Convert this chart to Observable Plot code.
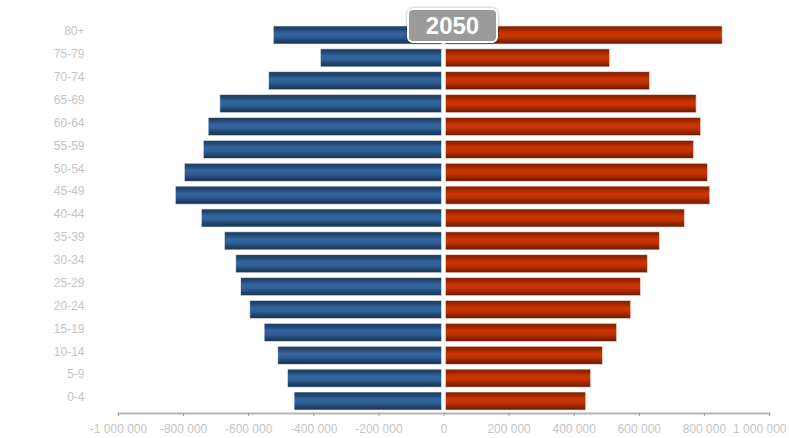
<!DOCTYPE html>
<html>
<head>
<meta charset="utf-8">
<script src="https://cdn.jsdelivr.net/npm/d3@7"></script>
<script src="https://cdn.jsdelivr.net/npm/@observablehq/plot@0.6"></script>
<style>
  html, body { margin: 0; padding: 0; background: #fff; }
  #wrap { position: relative; width: 789px; height: 438px; font-family: "Liberation Sans", Arial, sans-serif; }
  #badge {
    position: absolute; left: 407px; top: 8px; width: 87px; height: 31px;
    background: #9b9b9b; border: 2px solid #fff; border-radius: 6px;
    box-shadow: 0 0 3px rgba(0,0,0,0.35);
    color: #fff; font-weight: bold; font-size: 24px; line-height: 31px; text-align: center;
    font-family: "Liberation Sans", Arial, sans-serif;
  }
</style>
</head>
<body>
<div id="wrap"><div id="badge"></div></div>
<script>
const ages = ["80+","75-79","70-74","65-69","60-64","55-59","50-54","45-49","40-44","35-39","30-34","25-29","20-24","15-19","10-14","5-9","0-4"];
const male = [523000, 378000, 537000, 687000, 723000, 738000, 796000, 824000, 744000, 673000, 638000, 623000, 595000, 551000, 509000, 479000, 459000];
const female = [856000, 510000, 633000, 776000, 790000, 768000, 811000, 818000, 740000, 663000, 626000, 605000, 575000, 532000, 488000, 452000, 437000];
const xTicks = [-1000000, -800000, -600000, -400000, -200000, 0, 200000, 400000, 600000, 800000, 1000000];
const yearLabel = "2050";

const rows = ages.map((a, i) => ({age: a, male: male[i], female: female[i]}));
const fmt = d => d3.format(",d")(d).replace(/,/g, " ").replace("−", "-");
const lastTick = xTicks[xTicks.length - 1];
const fmtInner = d => d === lastTick ? "" : fmt(d);

const chart = Plot.plot({
  width: 789,
  height: 438,
  marginLeft: 118,
  marginRight: 20,
  marginTop: 23,
  marginBottom: 25,
  style: {fontFamily: "'Liberation Sans', Arial, sans-serif", background: "#fff"},
  x: {domain: [-1000000, 1000000]},
  y: {domain: ages, paddingInner: 0.213, paddingOuter: 0.131, round: false},
  marks: [
    Plot.barX(rows, {y: "age", x1: d => -d.male, x2: 0, insetRight: 2, fill: "url(#gBlue)", stroke: "#e6ecf3", strokeWidth: 0.6}),
    Plot.barX(rows, {y: "age", x1: 0, x2: "female", insetLeft: 2, fill: "url(#gRed)", stroke: "#f3e3de", strokeWidth: 0.6}),
    Plot.frame({anchor: "bottom", stroke: "#b4b4b4", strokeWidth: 2}),
    Plot.axisX({ticks: xTicks, tickSize: 3, tickPadding: 8, stroke: "#999", fill: "#c4c4c4", fontSize: 12, tickFormat: fmtInner, label: null}),
    Plot.axisX({ticks: [lastTick], tickSize: 0, tickPadding: 11, fill: "#c4c4c4", fontSize: 12, tickFormat: fmt, textAnchor: "end", dx: 17, label: null}),
    Plot.axisY({tickSize: 0, tickPadding: 34, fill: "#c4c4c4", fontSize: 12, dy: -4, label: null})
  ]
});

const defs = `
<defs>
  <linearGradient id="gBlue" x1="0" y1="0" x2="0" y2="1">
    <stop offset="0" stop-color="#1f3d60"/>
    <stop offset="0.18" stop-color="#24476f"/>
    <stop offset="0.4" stop-color="#3366a0"/>
    <stop offset="0.6" stop-color="#2f5f96"/>
    <stop offset="0.85" stop-color="#1f4066"/>
    <stop offset="1" stop-color="#1a3452"/>
  </linearGradient>
  <linearGradient id="gRed" x1="0" y1="0" x2="0" y2="1">
    <stop offset="0" stop-color="#7e2000"/>
    <stop offset="0.18" stop-color="#9a2700"/>
    <stop offset="0.4" stop-color="#cc3500"/>
    <stop offset="0.6" stop-color="#c43200"/>
    <stop offset="0.85" stop-color="#8a2200"/>
    <stop offset="1" stop-color="#661a00"/>
  </linearGradient>
</defs>`;
chart.insertAdjacentHTML("afterbegin", defs);

const wrap = document.getElementById("wrap");
wrap.insertBefore(chart, wrap.firstChild);
document.getElementById("badge").textContent = yearLabel;
</script>
</body>
</html>
